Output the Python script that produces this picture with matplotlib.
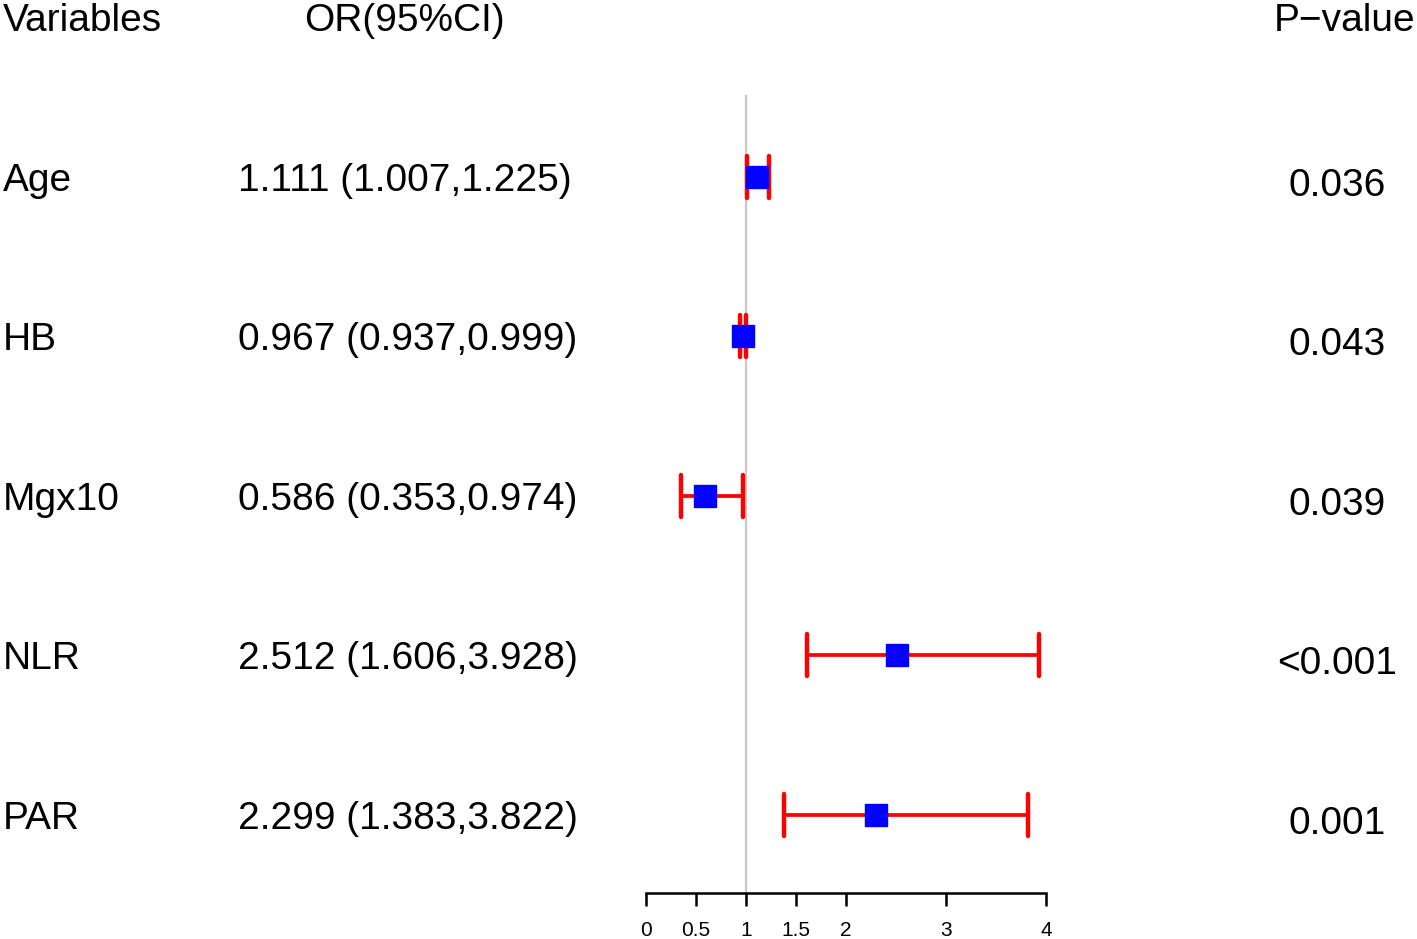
import matplotlib.pyplot as plt
import matplotlib.transforms as mtransforms
from matplotlib.markers import MarkerStyle

plt.rcParams['font.family'] = ['Liberation Sans', 'DejaVu Sans']

# data
variables = ['Age', 'HB', 'Mgx10', 'NLR', 'PAR']
odds = [1.111, 0.967, 0.586, 2.512, 2.299]
ci_low = [1.007, 0.937, 0.353, 1.606, 1.383]
ci_high = [1.225, 0.999, 0.974, 3.928, 3.822]
p_values = ['0.036', '0.043', '0.039', '<0.001', '0.001']
xticks = [0, 0.5, 1, 1.5, 2, 3, 4]
xtick_labels = ['0', '0.5', '1', '1.5', '2', '3', '4']

fig = plt.figure(figsize=(14.17, 9.39), dpi=100)
ax = fig.add_axes([646 / 1417, 1 - 893 / 939, 400 / 1417, (893 - 95) / 939])

rows = list(range(len(variables)))
err = [[o - l for o, l in zip(odds, ci_low)], [h - o for o, h in zip(odds, ci_high)]]

# reference line at OR = 1
ax.axvline(1, color='#c8c8c8', linewidth=1.6, zorder=1)

_, caps, bars = ax.errorbar(odds, rows, xerr=err, fmt='none', ecolor='red',
                            elinewidth=2.7, capsize=15, capthick=3.2,
                            zorder=2, clip_on=False)
for c in caps:
    c.set_marker(MarkerStyle('|', capstyle='round'))
for b in bars:
    b.set_capstyle('round')
ax.plot(odds, rows, 's', color='blue', markersize=15.5, zorder=3, clip_on=False)

ax.set_xlim(0, 4)
ax.set_ylim(4.489, -0.514)
ax.set_xticks(xticks)
ax.set_xticklabels(xtick_labels, fontsize=15)
ax.set_yticks([])
for side in ['top', 'right', 'left']:
    ax.spines[side].set_visible(False)
ax.spines['bottom'].set_linewidth(1.8)
ax.tick_params(axis='x', length=9.5, width=1.8, pad=11)

# text columns
trans = mtransforms.blended_transform_factory(fig.transFigure, ax.transData)
p_trans = trans + mtransforms.ScaledTranslation(0, -5 / 100, fig.dpi_scale_trans)
fs = 28
fig.text(3 / 1417, -1, 'Variables', transform=trans, fontsize=fs, va='center_baseline', ha='left')
fig.text(404 / 1417, -1, 'OR(95%CI)', transform=trans, fontsize=fs, va='center_baseline', ha='center')
fig.text(1345 / 1417, -1, 'P\u2212value', transform=trans, fontsize=fs, va='center_baseline', ha='center')

for i, name in enumerate(variables):
    fig.text(3 / 1417, i, name, transform=trans, fontsize=fs, va='center_baseline', ha='left')
    label = f'{odds[i]:.3f} ({ci_low[i]:.3f},{ci_high[i]:.3f})'
    fig.text(238 / 1417, i, label, transform=trans, fontsize=fs, va='center_baseline', ha='left')
    fig.text(1337 / 1417, i, p_values[i], transform=p_trans, fontsize=fs, va='center_baseline', ha='center')

fig.savefig('out.png', dpi=100)
